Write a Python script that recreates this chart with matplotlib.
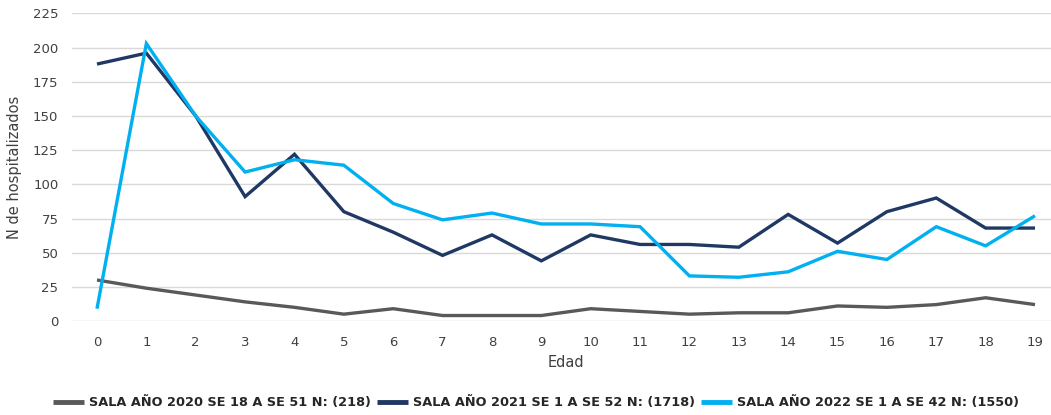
import matplotlib
matplotlib.use("Agg")
import matplotlib.pyplot as plt

edades = list(range(20))
sala_2020 = [30, 24, 19, 14, 10, 5, 9, 4, 4, 4, 9, 7, 5, 6, 6, 11, 10, 12, 17, 12]
sala_2021 = [188, 196, 150, 91, 122, 80, 65, 48, 63, 44, 63, 56, 56, 54, 78, 57, 80, 90, 68, 68]
sala_2022 = [9, 203, 150, 109, 118, 114, 86, 74, 79, 71, 71, 69, 33, 32, 36, 51, 45, 69, 55, 77]
etiquetas = [
    "SALA AÑO 2020 SE 18 A SE 51 N: (218)",
    "SALA AÑO 2021 SE 1 A SE 52 N: (1718)",
    "SALA AÑO 2022 SE 1 A SE 42 N: (1550)",
]
colores = ["#595959", "#203864", "#00B0F0"]
y_ticks = [0, 25, 50, 75, 100, 125, 150, 175, 200, 225]

plt.rcParams["font.family"] = ["DejaVu Sans"]

fig = plt.figure(figsize=(10.51, 4.15), dpi=100)
ax = fig.add_axes([72.3 / 1051, 94 / 415, 987.4 / 1051, 307.5 / 415])

for serie, color, etiqueta in zip([sala_2020, sala_2021, sala_2022], colores, etiquetas):
    ax.plot(edades, serie, color=color, lw=2.4, label=etiqueta,
            solid_joinstyle="miter", solid_capstyle="butt")

ax.set_xlim(-0.5, 19.5)
ax.set_ylim(0, 225)
ax.set_yticks(y_ticks)
ax.set_xticks(edades)
ax.tick_params(axis="both", length=0, labelsize=9.5, colors="#404040")
ax.tick_params(axis="y", pad=10)
ax.tick_params(axis="x", pad=11)
ax.grid(axis="y", color="#D9D9D9", lw=1)
ax.set_axisbelow(True)
for s in ax.spines.values():
    s.set_visible(False)

ax.set_xlabel("Edad", fontsize=10.5, color="#404040", labelpad=4)
ax.set_ylabel("N de hospitalizados", fontsize=10.5, color="#404040", labelpad=8)

leg = fig.legend(loc="center", bbox_to_anchor=(0.51, 0.029), ncol=3, frameon=False,
                 prop={"family": "DejaVu Sans", "weight": "bold", "size": 9.3},
                 handlelength=2.4, handletextpad=0.45, columnspacing=0.4)
for t in leg.get_texts():
    t.set_color("#262626")
for h in leg.legend_handles:
    h.set_linewidth(3.5)

fig.savefig("out.png", dpi=100)
